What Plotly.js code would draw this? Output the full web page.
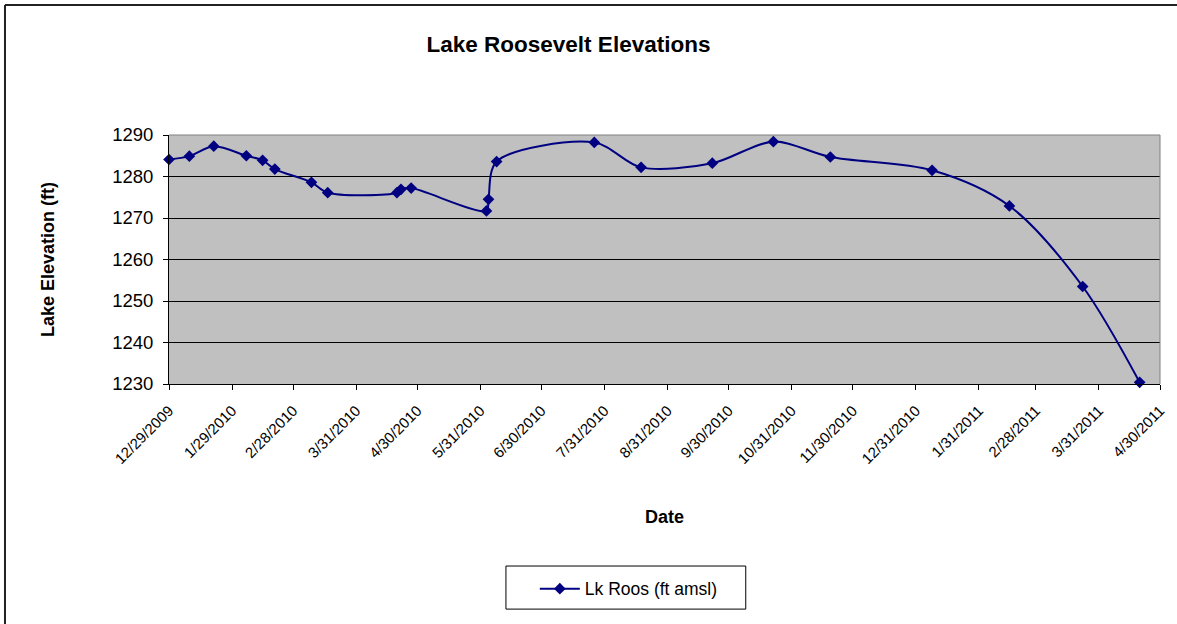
<!DOCTYPE html>
<html>
<head>
<meta charset="utf-8">
<script src="https://cdn.plot.ly/plotly-3.0.1.min.js"></script>
<style>
html, body { margin: 0; padding: 0; background: #ffffff; }
#chart { width: 1177px; height: 624px; }
</style>
</head>
<body>
<div id="chart"></div>
<script>
const dates = [
  "2009-12-29", "2010-01-08", "2010-01-20", "2010-02-05", "2010-02-13", "2010-02-19",
  "2010-03-09", "2010-03-17", "2010-04-20", "2010-04-22", "2010-04-27",
  "2010-06-03", "2010-06-04", "2010-06-08", "2010-07-26", "2010-08-18",
  "2010-09-22", "2010-10-22", "2010-11-19", "2011-01-08", "2011-02-15",
  "2011-03-23", "2011-04-20"
];
const elevations = [
  1284.1, 1284.9, 1287.3, 1285.0, 1283.9, 1281.8,
  1278.6, 1276.1, 1276.1, 1276.9, 1277.2,
  1271.7, 1274.5, 1283.6, 1288.2, 1282.2,
  1283.2, 1288.4, 1284.7, 1281.5, 1272.9,
  1253.5, 1230.4
];
const tickDates = [
  "2009-12-29", "2010-01-29", "2010-02-28", "2010-03-31", "2010-04-30", "2010-05-31",
  "2010-06-30", "2010-07-31", "2010-08-31", "2010-09-30", "2010-10-31", "2010-11-30",
  "2010-12-31", "2011-01-31", "2011-02-28", "2011-03-31", "2011-04-30"
];
const tickLabels = [
  "12/29/2009", "1/29/2010", "2/28/2010", "3/31/2010", "4/30/2010", "5/31/2010",
  "6/30/2010", "7/31/2010", "8/31/2010", "9/30/2010", "10/31/2010", "11/30/2010",
  "12/31/2010", "1/31/2011", "2/28/2011", "3/31/2011", "4/30/2011"
];
const seriesName = "Lk Roos (ft amsl)";

const font = "Liberation Sans, Arial, sans-serif";

const trace = {
  x: dates,
  y: elevations,
  type: "scatter",
  mode: "lines+markers",
  name: seriesName,
  line: { color: "#000080", width: 2, shape: "spline", smoothing: 0.9 },
  marker: { symbol: "diamond", size: 9, color: "#000080" },
  cliponaxis: false
};

const layout = {
  width: 1177,
  height: 624,
  paper_bgcolor: "#ffffff",
  plot_bgcolor: "#c0c0c0",
  margin: { l: 169, r: 17, t: 135, b: 240 },
  font: { family: font, color: "#000000" },
  showlegend: true,
  title: {
    text: "<b>Lake Roosevelt Elevations</b>",
    font: { family: font, size: 22.5, color: "#000000" },
    x: 0.483, xanchor: "center", xref: "container",
    y: 0.93, yanchor: "middle", yref: "container"
  },
  xaxis: {
    type: "date",
    range: ["2009-12-29", "2011-04-30"],
    tickmode: "array",
    tickvals: tickDates,
    ticktext: tickLabels,
    tickangle: -45,
    tickfont: { family: font, size: 15, color: "#000000" },
    ticks: "outside",
    ticklen: 5,
    tickcolor: "#000000",
    ticklabelstandoff: 6,
    showgrid: false,
    showline: true,
    linecolor: "#000000",
    linewidth: 1,
    mirror: false,
    zeroline: false,
    title: {
      text: "<b>Date</b>",
      font: { family: font, size: 18, color: "#000000" },
      standoff: 44
    }
  },
  yaxis: {
    range: [1230, 1290],
    tickmode: "linear",
    tick0: 1230,
    dtick: 10,
    tickfont: { family: font, size: 18.5, color: "#000000" },
    ticks: "outside",
    ticklen: 5,
    tickcolor: "#000000",
    ticklabelstandoff: 6,
    showgrid: true,
    gridcolor: "#000000",
    gridwidth: 1,
    showline: true,
    linecolor: "#000000",
    linewidth: 1,
    zeroline: false,
    title: {
      text: "<b>Lake Elevation (ft)</b>",
      font: { family: font, size: 18, color: "#000000" },
      standoff: 52
    }
  },
  legend: {
    x: 0.464, xanchor: "center", xref: "paper",
    y: -0.75, yanchor: "top", yref: "paper",
    bgcolor: "rgba(0,0,0,0)",
    borderwidth: 0,
    font: { family: font, size: 17.5, color: "#000000" },
    itemwidth: 40
  },
  shapes: [
    { type: "line", xref: "paper", yref: "paper", x0: 0, x1: 1, y0: 1, y1: 1,
      line: { color: "#808080", width: 1 } },
    { type: "line", xref: "paper", yref: "paper", x0: 1, x1: 1, y0: 0, y1: 1,
      line: { color: "#808080", width: 1 } },
    { type: "line", xref: "paper", yref: "paper", x0: -0.1655, x1: 1.02, y0: 1.522, y1: 1.522,
      line: { color: "#222222", width: 2 } },
    { type: "line", xref: "paper", yref: "paper", x0: -0.1655, x1: -0.1655, y0: -1.0, y1: 1.522,
      line: { color: "#222222", width: 2 } },
    { type: "rect", xref: "paper", yref: "paper", x0: 0.340, x1: 0.582, y0: -0.731, y1: -0.904,
      line: { color: "#000000", width: 1 }, fillcolor: "rgba(0,0,0,0)" }
  ]
};

Plotly.newPlot("chart", [trace], layout, { displayModeBar: false, staticPlot: true });
</script>
</body>
</html>
